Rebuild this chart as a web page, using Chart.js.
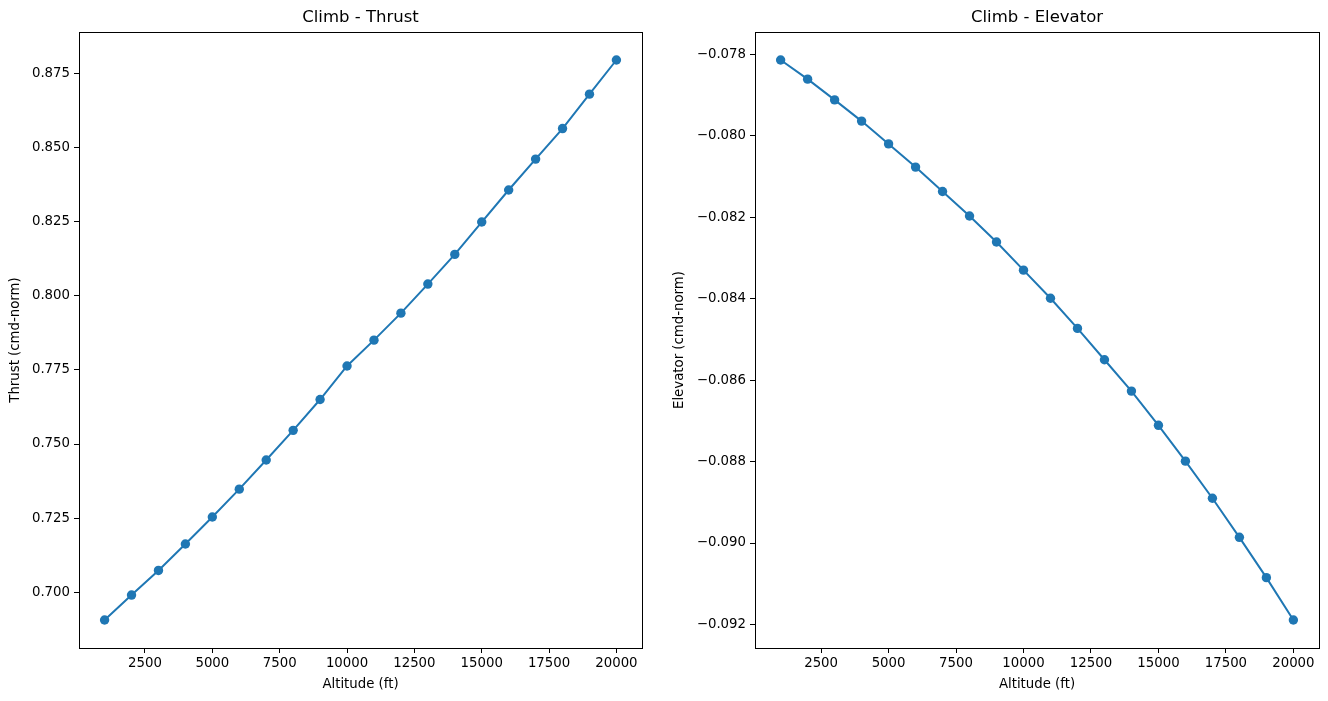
<!DOCTYPE html>
<html>
<head>
<meta charset="utf-8">
<script src="https://cdn.jsdelivr.net/npm/chart.js@4/dist/chart.umd.min.js"></script>
<style>
  html, body { margin: 0; padding: 0; background: #fff; }
  #wrap { position: relative; width: 1328px; height: 701px; }
  canvas { position: absolute; top: 0; }
</style>
</head>
<body>
<div id="wrap">
  <canvas id="thrustChart" width="664" height="701" style="left:0"></canvas>
  <canvas id="elevatorChart" width="664" height="701" style="left:664px"></canvas>
</div>
<script>
const altitudes = [1000, 2000, 3000, 4000, 5000, 6000, 7000, 8000, 9000, 10000,
  11000, 12000, 13000, 14000, 15000, 16000, 17000, 18000, 19000, 20000];

const thrust = [0.6907, 0.6991, 0.7074, 0.7163, 0.7254, 0.7348, 0.7446, 0.7546, 0.7650, 0.7763,
  0.7850, 0.7941, 0.8039, 0.8139, 0.8248, 0.8356, 0.8460, 0.8563, 0.8679, 0.8794];

const elevator = [-0.07814, -0.07861, -0.07912, -0.07964, -0.08020, -0.08077, -0.08137, -0.08197, -0.08261, -0.08330,
  -0.08399, -0.08473, -0.08550, -0.08627, -0.08711, -0.08799, -0.08890, -0.08986, -0.09085, -0.09189];

const altitudeTicks = [2500, 5000, 7500, 10000, 12500, 15000, 17500, 20000];
const thrustTicks = [0.700, 0.725, 0.750, 0.775, 0.800, 0.825, 0.850, 0.875];
const elevatorTicks = [-0.092, -0.090, -0.088, -0.086, -0.084, -0.082, -0.080, -0.078];

const BLUE = "#1f77b4";
const FONT = "'DejaVu Sans', sans-serif";

// matplotlib-style axes frame
const framePlugin = {
  id: "frame",
  afterDraw(chart) {
    const { ctx, chartArea: a } = chart;
    ctx.save();
    ctx.strokeStyle = "#000";
    ctx.lineWidth = 1;
    ctx.strokeRect(Math.round(a.left) + 0.5, Math.round(a.top) + 0.5,
      Math.round(a.right - a.left), Math.round(a.bottom - a.top));
    ctx.restore();
  },
};

// pad the data range by 5% like matplotlib does
function padded(values) {
  const lo = Math.min(...values);
  const hi = Math.max(...values);
  const m = (hi - lo) * 0.05;
  return { min: lo - m, max: hi + m };
}

function renderChart(canvasId, title, yLabel, values, yTicks, yAxisWidth, rightPad) {
  const ctx = document.getElementById(canvasId).getContext("2d");
  const xr = padded(altitudes);
  const yr = padded(values);

  new Chart(ctx, {
    type: "line",
    data: {
      datasets: [
        {
          data: altitudes.map((a, i) => ({ x: a, y: values[i] })),
          borderColor: BLUE,
          backgroundColor: BLUE,
          borderWidth: 2,
          pointRadius: 4.7,
          pointBorderWidth: 0,
          pointBackgroundColor: BLUE,
          tension: 0,
          fill: false,
          clip: false,
        },
      ],
    },
    options: {
      responsive: false,
      animation: false,
      devicePixelRatio: 1,
      layout: { padding: { left: 0, right: rightPad, top: 0, bottom: 0 } },
      plugins: {
        legend: { display: false },
        tooltip: { enabled: false },
        title: {
          display: true,
          text: title,
          fullSize: false,
          color: "#000",
          font: { family: FONT, size: 16.5, weight: "normal" },
          padding: { top: 8.2, bottom: 4 },
        },
      },
      scales: {
        x: {
          type: "linear",
          min: xr.min,
          max: xr.max,
          afterBuildTicks: (scale) => {
            scale.ticks = altitudeTicks.map((v) => ({ value: v }));
          },
          afterFit: (scale) => {
            scale.height = 53;
          },
          grid: {
            drawOnChartArea: false,
            drawTicks: true,
            tickLength: 5,
            tickColor: "#000",
            tickWidth: 1,
          },
          border: { display: false },
          ticks: {
            color: "#000",
            font: { family: FONT, size: 13.3 },
            padding: 3,
            maxRotation: 0,
            autoSkip: false,
            callback: (v) => String(v),
          },
          title: {
            display: true,
            text: "Altitude (ft)",
            color: "#000",
            font: { family: FONT, size: 13.3 },
            padding: { top: 0, bottom: 8 },
          },
        },
        y: {
          type: "linear",
          min: yr.min,
          max: yr.max,
          afterBuildTicks: (scale) => {
            scale.ticks = yTicks.map((v) => ({ value: v }));
          },
          afterFit: (scale) => {
            scale.width = yAxisWidth;
          },
          grid: {
            drawOnChartArea: false,
            drawTicks: true,
            tickLength: 5,
            tickColor: "#000",
            tickWidth: 1,
          },
          border: { display: false },
          ticks: {
            color: "#000",
            font: { family: FONT, size: 13.3 },
            padding: 4,
            autoSkip: false,
            callback: (v) => v.toFixed(3).replace("-", "\u2212"),
          },
          title: {
            display: true,
            text: yLabel,
            color: "#000",
            font: { family: FONT, size: 13.3 },
            padding: { top: 8, bottom: 0 },
          },
        },
      },
    },
    plugins: [framePlugin],
  });
}

renderChart("thrustChart", "Climb - Thrust", "Thrust (cmd-norm)", thrust, thrustTicks, 79, 22);
renderChart("elevatorChart", "Climb - Elevator", "Elevator (cmd-norm)", elevator, elevatorTicks, 91, 9);
</script>
</body>
</html>
